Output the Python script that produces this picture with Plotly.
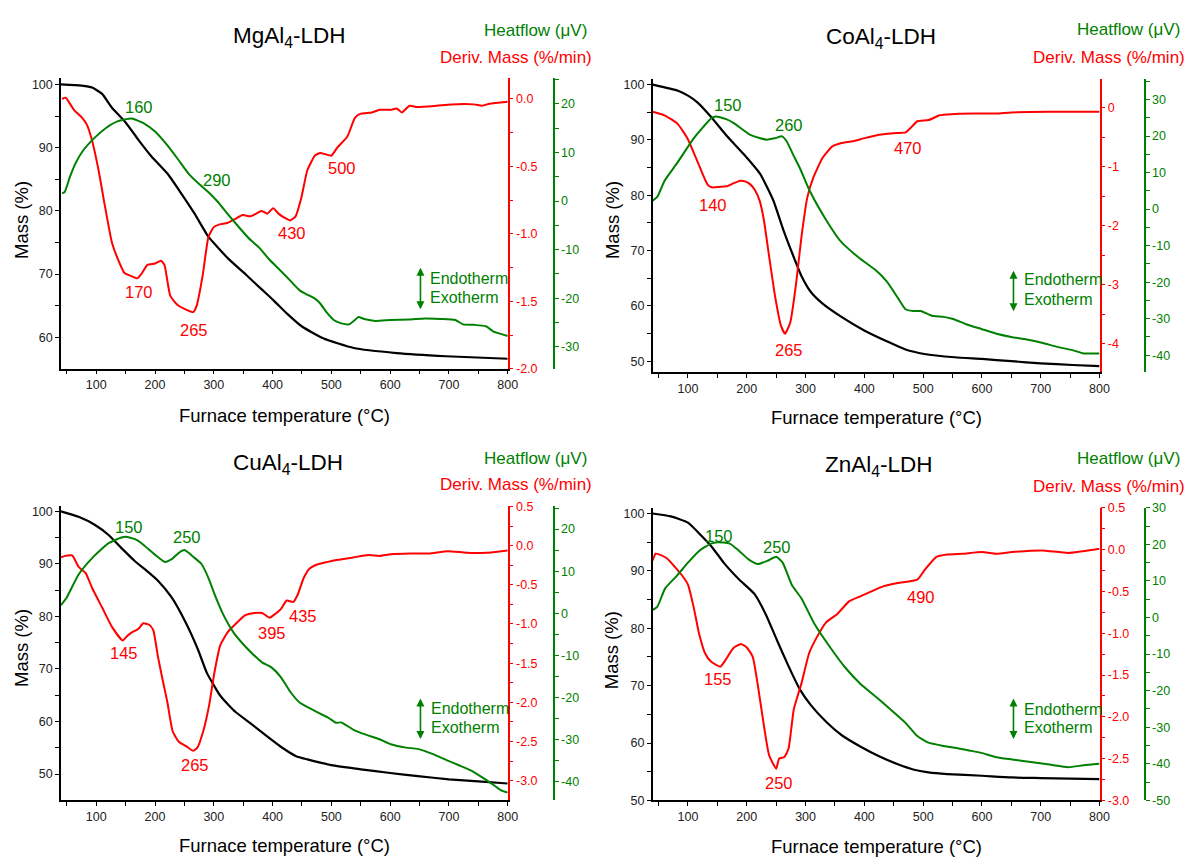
import plotly.graph_objects as go

W, H = 1198, 864
RED = "#FF0000"
GREEN = "#008000"
BLACK = "#000000"
FONT = "Arial, Liberation Sans, sans-serif"

# ---------------- MgAl4-LDH ----------------
mg_mass_t = [40, 75, 93, 110, 126, 149, 172, 194, 222, 245, 267, 290, 300, 325, 357, 380, 402, 425, 450,
             487, 538, 611, 695, 800]
mg_mass = [100.0, 99.8, 99.5, 98.5, 96.4, 94.1, 91.2, 88.6, 85.8, 82.7, 79.6, 76.0, 74.9, 72.4, 69.7, 67.7,
           65.8, 63.7, 61.7, 59.8, 58.3, 57.5, 57.0, 56.6]
mg_dtg_t = [42, 48, 53, 62, 76, 84, 93, 104, 115, 127, 139, 148, 158, 170, 178, 187, 200, 210, 216, 226,
            239, 252, 265, 271, 281, 291, 300, 310, 323, 336, 349, 362, 372, 381, 391, 401, 410, 420, 430,
            439, 449, 459, 472, 481, 490, 500, 510, 527, 540, 549, 569, 582, 601, 611, 620, 633, 646, 679,
            704, 743, 756, 769, 800]
mg_dtg = [0.0, 0.01, -0.02, -0.08, -0.14, -0.19, -0.31, -0.53, -0.80, -1.07, -1.21, -1.29, -1.31, -1.33,
          -1.29, -1.23, -1.22, -1.20, -1.23, -1.46, -1.53, -1.56, -1.58, -1.53, -1.31, -1.02, -0.95, -0.93,
          -0.92, -0.89, -0.86, -0.87, -0.85, -0.83, -0.85, -0.81, -0.85, -0.88, -0.90, -0.87, -0.73, -0.53,
          -0.42, -0.40, -0.41, -0.42, -0.36, -0.28, -0.14, -0.11, -0.10, -0.08, -0.08, -0.07, -0.10, -0.05,
          -0.06, -0.05, -0.04, -0.04, -0.05, -0.035, -0.02]
mg_hf_t = [42, 46, 55, 64, 77, 97, 116, 136, 160, 181, 200, 220, 239, 258, 275, 291, 307, 323, 342, 359,
           378, 394, 414, 430, 446, 456, 472, 481, 491, 504, 517, 530, 540, 546, 556, 575, 601, 633, 659,
           685, 711, 724, 743, 763, 776, 800]
mg_hf = [1.6, 1.8, 4.9, 7.6, 10.3, 13.0, 15.0, 16.4, 17.0, 16.0, 14.3, 11.6, 8.6, 5.5, 3.5, 1.8, -0.2,
         -2.6, -5.3, -7.6, -9.7, -12.0, -14.4, -16.4, -18.4, -19.1, -20.1, -21.1, -22.8, -24.5, -25.2,
         -25.4, -24.5, -23.9, -24.3, -24.7, -24.5, -24.4, -24.2, -24.3, -24.5, -25.4, -25.5, -25.8, -26.9,
         -27.8]
mg_labels = ["160", "290", "170", "265", "430", "500"]

# ---------------- CoAl4-LDH ----------------
co_mass_t = [40, 83, 100, 116, 139, 167, 195, 223, 245, 262, 277, 293, 309, 329, 361, 399, 438, 470, 502,
             554, 600, 650, 700, 754, 800]
co_mass = [100.0, 98.9, 98.0, 96.8, 94.2, 90.6, 87.4, 83.8, 79.1, 73.8, 69.6, 65.4, 62.5, 60.4, 58.0,
           55.6, 53.6, 52.1, 51.3, 50.7, 50.4, 50.0, 49.6, 49.3, 49.1]
co_dtg_t = [40, 60, 82, 99, 116, 133, 140, 155, 167, 178, 189, 197, 206, 214, 222, 229, 238, 248, 258,
            265, 274, 284, 293, 303, 313, 329, 345, 361, 380, 399, 425, 455, 470, 480, 490, 509, 528, 548,
            586, 625, 650, 715, 800]
co_dtg = [-0.07, -0.13, -0.27, -0.52, -0.91, -1.30, -1.35, -1.34, -1.33, -1.28, -1.24, -1.25, -1.30,
          -1.40, -1.58, -1.90, -2.52, -3.19, -3.69, -3.83, -3.64, -2.97, -2.19, -1.52, -1.19, -0.85, -0.66,
          -0.60, -0.57, -0.52, -0.46, -0.43, -0.42, -0.33, -0.23, -0.21, -0.13, -0.11, -0.10, -0.10, -0.08,
          -0.07, -0.07]
co_hf_t = [40, 48, 60, 82, 110, 125, 141, 150, 165, 178, 206, 234, 248, 260, 268, 280, 290, 307, 335,
           358, 367, 393, 419, 438, 457, 470, 483, 496, 515, 535, 551, 573, 599, 625, 650, 676, 702, 728,
           754, 773, 800]
co_hf = [2.3, 3.4, 7.7, 12.7, 19.4, 22.3, 25.0, 25.3, 24.6, 23.5, 20.3, 19.0, 19.4, 19.9, 18.5, 14.5,
         11.3, 5.0, -3.0, -8.5, -10.0, -13.6, -16.7, -19.8, -24.3, -27.4, -27.9, -27.9, -29.2, -29.5,
         -30.1, -31.5, -32.8, -34.1, -35.0, -35.7, -36.6, -37.7, -38.6, -39.5, -39.5]
co_labels = ["150", "260", "140", "265", "470"]

# ---------------- CuAl4-LDH ----------------
cu_mass_t = [40, 70, 98, 121, 143, 166, 183, 205, 228, 250, 273, 288, 311, 337, 363, 388, 414, 440, 459,
             500, 550, 600, 647, 700, 750, 800]
cu_mass = [100.0, 98.95, 97.4, 95.5, 93.0, 90.5, 88.95, 86.8, 83.65, 79.3, 73.7, 69.3, 64.9, 61.8, 59.6,
           57.4, 55.2, 53.4, 52.8, 51.7, 50.9, 50.2, 49.6, 49.0, 48.6, 48.2]
cu_dtg_t = [40, 47, 59, 70, 82, 93, 110, 127, 145, 153, 160, 172, 180, 190, 197, 205, 212, 221, 230, 240,
            253, 265, 272, 282, 292, 301, 311, 324, 337, 353, 369, 382, 395, 401, 414, 424, 435, 443, 453,
            463, 476, 492, 511, 537, 563, 582, 601, 634, 666, 698, 730, 763, 800]
cu_dtg = [-0.15, -0.13, -0.125, -0.27, -0.35, -0.54, -0.79, -1.04, -1.21, -1.15, -1.11, -1.06, -0.99,
          -1.01, -1.08, -1.42, -1.68, -2.0, -2.37, -2.50, -2.56, -2.62, -2.58, -2.37, -2.04, -1.62, -1.27,
          -1.10, -1.00, -0.89, -0.86, -0.86, -0.92, -0.89, -0.81, -0.70, -0.72, -0.62, -0.41, -0.29, -0.24,
          -0.21, -0.18, -0.15, -0.12, -0.13, -0.11, -0.10, -0.10, -0.07, -0.09, -0.09, -0.06]
cu_hf_t = [40, 50, 70, 93, 121, 143, 150, 166, 177, 200, 217, 229, 240, 250, 266, 279, 292, 301, 317, 334,
           350, 366, 382, 398, 414, 430, 447, 463, 479, 495, 508, 517, 537, 556, 582, 601, 627, 647, 672,
           698, 717, 737, 756, 776, 788, 800]
cu_hf = [1.9, 3.8, 9.2, 13.1, 16.65, 18.0, 18.2, 17.6, 16.65, 13.9, 12.2, 12.9, 14.3, 15.0, 13.3, 11.7,
         8.0, 4.6, -0.6, -4.7, -7.4, -9.7, -11.7, -12.9, -15.2, -18.7, -21.4, -22.6, -23.8, -24.9, -26.1,
         -26.0, -27.7, -28.8, -30.0, -31.2, -32.0, -32.3, -33.5, -35.1, -36.2, -37.4, -39.0, -40.9, -42.1,
         -42.7]
cu_labels = ["150", "250", "145", "265", "395", "435"]

# ---------------- ZnAl4-LDH ----------------
zn_mass_t = [40, 71, 100, 122, 142, 161, 187, 213, 232, 251, 271, 290, 309, 335, 361, 393, 425, 457,
             483, 509, 541, 600, 650, 700, 800]
zn_mass = [100.0, 99.5, 98.4, 96.2, 94.0, 91.4, 88.5, 86.0, 82.5, 78.0, 73.4, 69.4, 66.6, 63.7, 61.4,
           59.4, 57.7, 56.3, 55.4, 54.9, 54.6, 54.3, 54.0, 53.9, 53.7]
zn_dtg_t = [40, 45, 55, 65, 78, 90, 100, 110, 119, 129, 139, 155, 164, 177, 190, 200, 210, 219, 229, 238,
            250, 255, 264, 271, 280, 293, 306, 319, 335, 354, 374, 393, 412, 432, 457, 490, 502, 522, 541,
            567, 600, 625, 651, 702, 747, 800]
zn_dtg = [-0.13, -0.05, -0.07, -0.11, -0.21, -0.31, -0.42, -0.70, -1.01, -1.24, -1.34, -1.40, -1.32,
          -1.18, -1.13, -1.17, -1.28, -1.63, -2.10, -2.46, -2.62, -2.50, -2.48, -2.38, -1.91, -1.60, -1.24,
          -1.05, -0.87, -0.77, -0.62, -0.56, -0.50, -0.44, -0.40, -0.36, -0.25, -0.09, -0.06, -0.05, -0.03,
          -0.05, -0.03, -0.01, -0.04, 0.01]
zn_hf_t = [40, 48, 61, 81, 100, 119, 139, 150, 171, 187, 203, 219, 235, 250, 261, 277, 293, 316, 342,
           367, 393, 419, 445, 470, 490, 509, 535, 560, 580, 599, 625, 651, 683, 715, 747, 773, 800]
zn_hf = [2.1, 3.0, 7.9, 11.4, 15.0, 18.2, 20.2, 20.6, 20.2, 18.2, 15.9, 14.6, 15.5, 16.6, 15.0, 8.8,
         5.2, -2.0, -8.2, -13.6, -18.1, -21.6, -25.2, -28.8, -32.4, -34.2, -35.1, -35.8, -36.4, -37.0,
         -38.2, -38.8, -39.5, -40.2, -40.9, -40.4, -40.0]
zn_labels = ["150", "250", "155", "250", "490"]

# ---------------- axis ticks ----------------
temp_ticks = [100, 200, 300, 400, 500, 600, 700, 800]
temp_ticktext = ["100", "200", "300", "400", "500", "600", "700", "800"]
mass_ticks = [50, 60, 70, 80, 90, 100]
mass_ticktext = ["50", "60", "70", "80", "90", "100"]
dtg_ticks_half = [0.5, 0.0, -0.5, -1.0, -1.5, -2.0, -2.5, -3.0]
dtg_ticktext_half = ["0.5", "0.0", "-0.5", "-1.0", "-1.5", "-2.0", "-2.5", "-3.0"]
dtg_ticks_int = [0, -1, -2, -3, -4]
dtg_ticktext_int = ["0", "-1", "-2", "-3", "-4"]
hf_ticks = [30, 20, 10, 0, -10, -20, -30, -40, -50]
hf_ticktext = ["30", "20", "10", "0", "-10", "-20", "-30", "-40", "-50"]

titles = ["MgAl<sub>4</sub>-LDH", "CoAl<sub>4</sub>-LDH", "CuAl<sub>4</sub>-LDH", "ZnAl<sub>4</sub>-LDH"]
x_title = "Furnace temperature (°C)"
y_title = "Mass (%)"
hf_title = "Heatflow (μV)"
dtg_title = "Deriv. Mass (%/min)"

series = [
    (mg_mass_t, mg_mass, mg_dtg_t, mg_dtg, mg_hf_t, mg_hf, mg_labels),
    (co_mass_t, co_mass, co_dtg_t, co_dtg, co_hf_t, co_hf, co_labels),
    (cu_mass_t, cu_mass, cu_dtg_t, cu_dtg, cu_hf_t, cu_hf, cu_labels),
    (zn_mass_t, zn_mass, zn_dtg_t, zn_dtg, zn_hf_t, zn_hf, zn_labels),
]

# Panel geometry in screen pixels
panels = [
    dict(x0=61.5, x1=512, y0=71.7, y1=367.7, mass=[55.02, 101.09], dtg=[-2.0, 0.159], hf=[-34.54, 25.43],
         dtg_ticks=(dtg_ticks_half, dtg_ticktext_half), hf_x=558.5,
         title=(291.7, 31), hf_lab=(594, 24), dm_lab=(599, 51.7), xt=(287, 415), yt=(21, 216.7),
         arrow=(424, 265, 308), endo=(432, 276, 295),
         lab_pos=[(GREEN, 139.7, 101.7), (GREEN, 218.9, 176), (RED, 140.4, 290), (RED, 195.2, 328.3),
                  (RED, 294.7, 230), (RED, 344.4, 163.3)]),
    dict(x0=658.2, x1=1108.8, y0=72.7, y1=371, mass=[48.04, 101.1], dtg=[-4.48, 0.494], hf=[-44.58, 35.73],
         dtg_ticks=(dtg_ticks_int, dtg_ticktext_int), hf_x=1154.5,
         title=(888, 31.7), hf_lab=(1192, 23.3), dm_lab=(1197, 51.7), xt=(884, 417.3), yt=(617, 216.7),
         arrow=(1022, 268, 310), endo=(1030.5, 277.3, 297.3),
         lab_pos=[(GREEN, 733.9, 100), (GREEN, 795.2, 120), (RED, 719.4, 201.7), (RED, 795.2, 348.3),
                  (RED, 915.7, 143.3)]),
    dict(x0=61.5, x1=512, y0=507.3, y1=806, mass=[45.07, 101.0], dtg=[-3.247, 0.506], hf=[-44.45, 25.48],
         dtg_ticks=(dtg_ticks_half, dtg_ticktext_half), hf_x=558.5,
         title=(290, 465), hf_lab=(594, 459.3), dm_lab=(599, 485), xt=(286.5, 852.7), yt=(21, 651.7),
         arrow=(424, 703, 745), endo=(432.4, 712.7, 732.7),
         lab_pos=[(GREEN, 130.1, 528.3), (GREEN, 188.7, 538.3), (RED, 124.8, 656.7), (RED, 197.1, 770),
                  (RED, 274, 636.7), (RED, 305.4, 619.3)]),
    dict(x0=658.2, x1=1108.8, y0=509, y1=806.5, mass=[50.0, 101.0], dtg=[-3.0, 0.5], hf=[-50, 30],
         dtg_ticks=(dtg_ticks_half, dtg_ticktext_half), hf_x=1154.5,
         title=(886.6, 466.7), hf_lab=(1192, 459.3), dm_lab=(1197, 487.3), xt=(884, 853.3), yt=(617, 654),
         arrow=(1022, 703, 745), endo=(1030.5, 714, 732.7),
         lab_pos=[(GREEN, 725.5, 537.3), (GREEN, 783.7, 549.3), (RED, 724.4, 683.3), (RED, 785.6, 788.3),
                  (RED, 928.3, 599.3)]),
]


def px(x):
    return x / W


def py(y):
    return 1 - y / H


def ticks_with_minor(majors, labels, rng):
    """Labelled major ticks plus unlabelled ticks halfway between them."""
    lo, hi = min(rng), max(rng)
    step = abs(majors[1] - majors[0])
    cand = set()
    for m in majors:
        for v in (m - step / 2, m, m + step / 2):
            cand.add(round(v, 6))
    lab = {round(m, 6): t for m, t in zip(majors, labels)}
    vals = sorted(v for v in cand if lo - 1e-6 <= v <= hi + 1e-6)
    return vals, [lab.get(v, "") for v in vals]


def name(prefix, n):
    return prefix if n == 1 else f"{prefix}{n}"


fig = go.Figure()
layout = dict(
    width=W, height=H, margin=dict(l=0, r=0, t=0, b=0),
    paper_bgcolor="white", plot_bgcolor="white", showlegend=False,
    font=dict(family=FONT, size=12.5, color=BLACK),
)
annotations = []

tick_font = 12.5
for i, (p, s) in enumerate(zip(panels, series)):
    mass_t, mass, dtg_t, dtg, hf_t, hf, labels = s
    xn = i + 1
    ym, yd, yh = 3 * i + 1, 3 * i + 2, 3 * i + 3
    xref = name("x", xn)

    # traces
    fig.add_trace(go.Scatter(x=hf_t, y=hf, mode="lines", xaxis=xref, yaxis=name("y", yh),
                             line=dict(color=GREEN, width=2, shape="spline", smoothing=0.5)))
    fig.add_trace(go.Scatter(x=dtg_t, y=dtg, mode="lines", xaxis=xref, yaxis=name("y", yd),
                             line=dict(color=RED, width=2, shape="spline", smoothing=0.5)))
    fig.add_trace(go.Scatter(x=mass_t, y=mass, mode="lines", xaxis=xref, yaxis=name("y", ym),
                             line=dict(color=BLACK, width=2.2, shape="spline", smoothing=0.5)))

    xv, xt = ticks_with_minor(temp_ticks, temp_ticktext, [40, 800])
    layout[name("xaxis", xn)] = dict(
        domain=[px(p["x0"]), px(p["x1"])], anchor=name("y", ym), range=[40, 800],
        showgrid=False, zeroline=False, showline=True, linecolor=BLACK, linewidth=1.5,
        ticks="outside", ticklen=4, tickwidth=1.2, tickcolor=BLACK,
        tickmode="array", tickvals=xv, ticktext=xt, tickfont=dict(size=tick_font, color="#222"),
    )
    mv, mt = ticks_with_minor(mass_ticks, mass_ticktext, p["mass"])
    layout[name("yaxis", ym)] = dict(
        domain=[py(p["y1"]), py(p["y0"])], anchor=xref, range=p["mass"],
        showgrid=False, zeroline=False, showline=True, linecolor=BLACK, linewidth=1.5,
        ticks="outside", ticklen=4, tickwidth=1.2, tickcolor=BLACK,
        tickmode="array", tickvals=mv, ticktext=mt, tickfont=dict(size=tick_font, color="#222"),
    )
    dv, dt = ticks_with_minor(p["dtg_ticks"][0], p["dtg_ticks"][1], p["dtg"])
    layout[name("yaxis", yd)] = dict(
        overlaying=name("y", ym), anchor=xref, side="right", range=p["dtg"],
        showgrid=False, zeroline=False, showline=True, linecolor=RED, linewidth=1.5,
        ticks="outside", ticklen=4, tickwidth=1.2, tickcolor=RED,
        tickmode="array", tickvals=dv, ticktext=dt, tickfont=dict(size=tick_font, color=RED),
    )
    hv, ht = ticks_with_minor(hf_ticks, hf_ticktext, p["hf"])
    layout[name("yaxis", yh)] = dict(
        overlaying=name("y", ym), anchor="free", position=px(p["hf_x"]), side="right", range=p["hf"],
        showgrid=False, zeroline=False, showline=True, linecolor=GREEN, linewidth=1.5,
        ticks="outside", ticklen=4, tickwidth=1.2, tickcolor=GREEN,
        tickmode="array", tickvals=hv, ticktext=ht, tickfont=dict(size=tick_font, color=GREEN),
    )

    def text(t, x, y, size, color=BLACK, xanchor="center", angle=0):
        annotations.append(dict(text=t, x=px(x), y=py(y), xref="paper", yref="paper",
                                xanchor=xanchor, yanchor="middle", showarrow=False, textangle=angle,
                                font=dict(family=FONT, size=size, color=color)))

    text(titles[i], p["title"][0], p["title"][1], 22.5)
    text(hf_title, p["hf_lab"][0], p["hf_lab"][1], 17, GREEN, "right")
    text(dtg_title, p["dm_lab"][0], p["dm_lab"][1], 17, RED, "right")
    text(x_title, p["xt"][0], p["xt"][1], 18.5)
    text(y_title, p["yt"][0], p["yt"][1], 18.5, angle=-90)
    for lab, (col, lx, ly) in zip(labels, p["lab_pos"]):
        text(lab, lx, ly, 16.5, col)

    ax_x, top, bot = p["arrow"]
    annotations.append(dict(text="", x=px(ax_x), y=py(top), xref="paper", yref="paper",
                            showarrow=True, ax=0, ay=bot - top, arrowside="end+start",
                            arrowhead=2, arrowsize=1, arrowwidth=1.6, arrowcolor=GREEN))
    ex, ey1, ey2 = p["endo"]
    text("Endotherm", ex, ey1, 16, GREEN, "left")
    text("Exotherm", ex, ey2, 16, GREEN, "left")

layout["annotations"] = annotations
fig.update_layout(**layout)
fig.write_html("out.html")
